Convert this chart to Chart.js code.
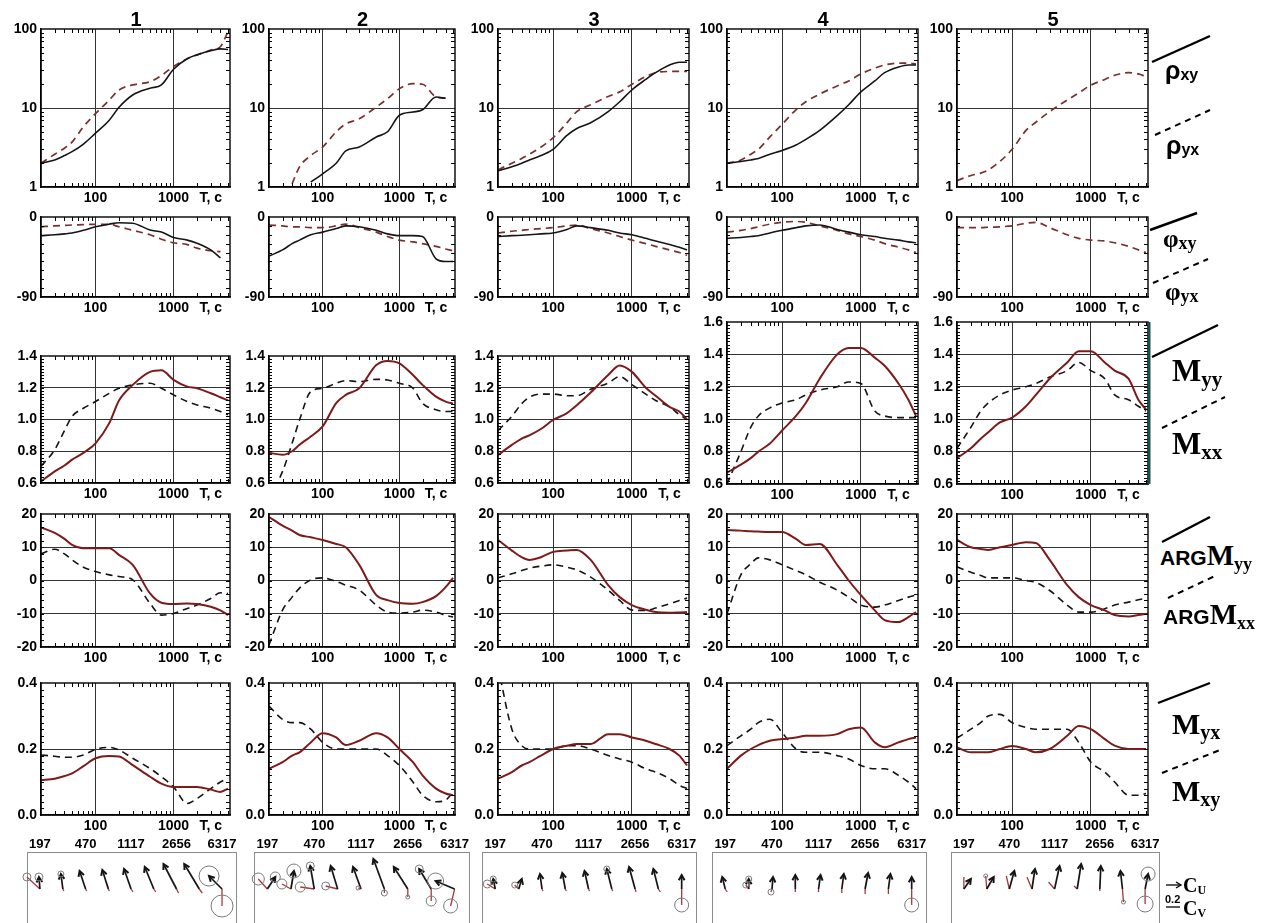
<!DOCTYPE html>
<html>
<head>
<meta charset="utf-8">
<script src="https://cdn.jsdelivr.net/npm/chart.js@4.4.0/dist/chart.umd.min.js"></script>
<style>
  body { margin: 0; background: #fff; }
  #page { position: relative; width: 1267px; height: 923px; overflow: hidden; font-family: "Liberation Sans", Arial, sans-serif; }
  #page canvas { position: absolute; }
  .hdr { position: absolute; font: bold 20px "Liberation Sans", Arial, sans-serif; line-height: 1; }
  .lg { position: absolute; line-height: 1; white-space: nowrap; color: #000; }
  .sans { font-family: "Liberation Sans", Arial, sans-serif; font-weight: bold; }
  .serif { font-family: "Liberation Serif", "Times New Roman", serif; font-weight: bold; }
  .sb { position: relative; }
</style>
</head>
<body>
<div id="page">
  <svg id="keys" width="1267" height="923" style="position:absolute;left:0;top:0">
    <g stroke="#000" stroke-width="2.4" fill="none">
      <line x1="1152" y1="62" x2="1210" y2="36"/>
      <line x1="1155" y1="135" x2="1210" y2="110" stroke-dasharray="6 5" stroke-width="2"/>
      <line x1="1150" y1="230" x2="1197" y2="213"/>
      <line x1="1153" y1="283" x2="1208" y2="259" stroke-dasharray="6 5" stroke-width="2"/>
      <line x1="1152" y1="357" x2="1218" y2="325"/>
      <line x1="1162" y1="428" x2="1225" y2="397" stroke-dasharray="6 5" stroke-width="2"/>
      <line x1="1162" y1="542" x2="1210" y2="517"/>
      <line x1="1168" y1="598" x2="1217" y2="575" stroke-dasharray="6 5" stroke-width="2"/>
      <line x1="1158" y1="703" x2="1210" y2="683"/>
      <line x1="1162" y1="773" x2="1220" y2="750" stroke-dasharray="6 5" stroke-width="2"/>
      <line x1="1166" y1="885" x2="1180" y2="885" stroke-width="1.3"/>
      <polyline points="1176,882 1181,885 1176,888" stroke-width="1.3"/>
      <line x1="1166" y1="907" x2="1180" y2="907" stroke-width="1.3"/>
    </g>
  </svg>
</div>
<script>
// ---- periods (s) used for every curve ----
const T = [20, 30, 40, 50, 70, 100, 150, 200, 300, 500, 700, 1000, 1500, 2000, 3000, 4000, 5000];

// ---- apparent resistivity, Ohm*m ----
const rhoXY1 = [2.0, 2.2, 2.5, 2.8, 3.5, 4.8, 7.0, 10.2, 14.6, 17.8, 19.6, 31, 42, 47, 53, 56, 55];
const rhoYX1 = [2.0, 2.6, 3.1, 3.7, 5.8, 8.5, 12.6, 16.9, 19.6, 21.5, 25.8, 33.6, 42, 47, 54, 60, 93];
const rhoXY2 = [null, null, null, null, 1.15, 1.47, 2.0, 2.86, 3.2, 4.3, 5.0, 8.1, 8.9, 9.5, 13.8, 13.3, null];
const rhoYX2 = [null, null, 1.1, 1.8, 2.5, 3.2, 5.0, 6.3, 7.3, 10.3, 13.1, 17.6, 20.3, 20, 13.8, 13.3, null];
const rhoXY3 = [1.6, 1.8, 2.0, 2.2, 2.5, 3.0, 4.5, 5.5, 6.5, 9, 12, 17, 23, 28, 35, 38, 38];
const rhoYX3 = [1.65, 2.0, 2.3, 2.6, 3.2, 4.2, 6.5, 9, 11, 14, 16, 20, 25, 28, 29, 29, 29];
const rhoXY4 = [2.0, 2.1, 2.2, 2.3, 2.6, 2.9, 3.4, 4.0, 5.2, 8, 11, 16, 22, 28, 33, 35, 35];
const rhoYX4 = [2.0, 2.2, 2.6, 3.0, 4.3, 6.2, 9.5, 12, 15, 19, 22, 27, 32, 35, 37, 37, 36];
const rhoYX5 = [1.2, 1.4, 1.5, 1.65, 2.1, 3.0, 5.2, 6.6, 9, 12.6, 15.5, 19.5, 23, 26, 28, 27, 25];

// ---- impedance phase, degrees ----
const phiXY1 = [-21, -20, -19, -18, -15, -11, -8, -6.4, -7, -14.6, -17, -23, -26, -29.5, -37, -46, null];
const phiYX1 = [-11, -10, -9.5, -9, -8.5, -8.3, -8.3, -11, -15, -20, -25, -29, -31, -35, -38, -39, null];
const phiXY2 = [-44, -37, -30, -26, -20, -17, -13, -10, -11, -15, -19, -21, -21, -22, -47, -50, -50];
const phiYX2 = [-9, -10, -11, -11, -12, -12, -10, -8, -12, -17, -22, -26, -28, -30, -33, -36, -38];
const phiXY3 = [-22, -21, -20.5, -20, -19, -18, -14, -10, -12, -15, -18, -20, -24, -27, -31, -34, -37];
const phiYX3 = [-18, -16, -15, -14, -13, -12, -10, -9, -13, -18, -22, -26, -30, -33, -37, -40, -43];
const phiXY4 = [-24, -23, -22, -21, -18, -15, -12, -10, -9, -14, -17, -20, -22, -24, -26, -28, -29];
const phiYX4 = [-17, -15, -13, -11, -8, -6, -5, -6, -10, -15, -19, -22, -26, -30, -34, -37, -40];
const phiYX5 = [-12, -12, -12, -11.5, -11, -10, -7, -6, -12, -20, -24, -26, -27, -29, -33, -37, -40];

// ---- magnetic tensor, main components ----
const myy1 = [0.61, 0.673, 0.71, 0.747, 0.79, 0.85, 0.977, 1.12, 1.218, 1.30, 1.31, 1.25, 1.207, 1.197, 1.165, 1.14, 1.12];
const mxx1 = [0.705, 0.81, 0.93, 1.019, 1.071, 1.113, 1.165, 1.197, 1.218, 1.228, 1.197, 1.155, 1.113, 1.092, 1.071, 1.05, 1.03];
const myy2 = [0.79, 0.778, 0.80, 0.841, 0.893, 0.956, 1.103, 1.155, 1.197, 1.343, 1.369, 1.354, 1.28, 1.218, 1.144, 1.113, 1.10];
const mxx2 = [0.5, 0.673, 0.85, 0.998, 1.176, 1.197, 1.228, 1.245, 1.239, 1.253, 1.249, 1.228, 1.197, 1.103, 1.061, 1.05, 1.05];
const myy3 = [0.776, 0.84, 0.88, 0.90, 0.94, 0.997, 1.04, 1.09, 1.17, 1.28, 1.34, 1.30, 1.2, 1.15, 1.08, 1.05, 1.0];
const mxx3 = [0.93, 1.02, 1.1, 1.14, 1.16, 1.16, 1.15, 1.15, 1.19, 1.23, 1.27, 1.22, 1.16, 1.12, 1.08, 1.03, 1.0];
const myy4 = [0.67, 0.72, 0.76, 0.8, 0.85, 0.93, 1.02, 1.1, 1.25, 1.4, 1.44, 1.44, 1.38, 1.33, 1.22, 1.12, 1.02];
const mxx4 = [0.6, 0.8, 0.95, 1.02, 1.07, 1.1, 1.12, 1.15, 1.18, 1.2, 1.23, 1.22, 1.05, 1.02, 1.01, 1.01, 1.01];
const myy5 = [0.76, 0.82, 0.88, 0.92, 0.98, 1.01, 1.08, 1.15, 1.25, 1.35, 1.42, 1.42, 1.35, 1.3, 1.25, 1.12, 1.06];
const mxx5 = [0.82, 0.95, 1.05, 1.1, 1.15, 1.18, 1.2, 1.22, 1.26, 1.3, 1.35, 1.3, 1.25, 1.15, 1.12, 1.08, 1.05];

// ---- arguments of main components, degrees ----
const argYY1 = [16, 14.3, 12.5, 10.7, 9.7, 9.7, 9.7, 7.7, 4.7, -3.9, -6.7, -7.1, -6.9, -7.1, -7.9, -9, -10.4];
const argXX1 = [8, 9.4, 8, 6.2, 4, 2.7, 1.7, 1.2, 0.2, -6.9, -10.4, -9.9, -8.4, -7.4, -5.4, -3.7, -3.9];
const argYY2 = [19.1, 16.5, 15, 13.7, 13, 12.2, 11, 10, 4.7, -4.4, -5.9, -6.8, -7, -6.5, -4.7, -2, 0.8];
const argXX2 = [-19.4, -8.9, -5, -2.3, 0.2, 0.8, -0.3, -1.4, -2.9, -7.4, -9.5, -9.8, -9.5, -8.9, -9.5, -10.5, -11];
const argYY3 = [12.2, 9, 7, 6.2, 7, 8.6, 9, 9.2, 6.2, -1.4, -5, -7.4, -8.8, -9.5, -9.7, -9.6, -9.5];
const argXX3 = [0.8, 2, 3, 3.7, 4.3, 4.7, 4, 3.2, 1, -2.9, -6, -8.9, -9, -8.3, -7, -6, -5.3];
const argYY4 = [15.2, 15, 14.8, 14.7, 14.6, 14.6, 12.5, 10.7, 11, 4.7, 0, -4.4, -9, -11.9, -12.5, -11, -9.5];
const argXX4 = [-10, 1.7, 5, 6.8, 6.2, 4.7, 3, 1.7, -0.5, -2.9, -5, -7.4, -8, -7.4, -6, -5, -4.4];
const argYY5 = [12.2, 10, 9.5, 9.2, 10, 10.7, 11.5, 11.3, 6.2, -1.4, -5, -7.4, -9, -10.4, -10.8, -10.4, -10];
const argXX5 = [4.1, 2.5, 1.5, 0.8, 0.8, 0.8, 0, -0.6, -3, -7.4, -9.5, -9.5, -8.5, -7.4, -6.5, -5.8, -5.3];

// ---- magnetic tensor, additional components ----
const myx1 = [0.106, 0.11, 0.118, 0.126, 0.148, 0.172, 0.179, 0.177, 0.151, 0.116, 0.095, 0.085, 0.085, 0.085, 0.077, 0.07, 0.08];
const mxy1 = [0.182, 0.178, 0.175, 0.175, 0.182, 0.199, 0.205, 0.197, 0.172, 0.141, 0.116, 0.085, 0.035, 0.05, 0.08, 0.1, 0.111];
const myx2 = [0.14, 0.16, 0.18, 0.19, 0.22, 0.248, 0.235, 0.212, 0.225, 0.248, 0.235, 0.2, 0.16, 0.12, 0.08, 0.065, 0.06];
const mxy2 = [0.33, 0.29, 0.28, 0.28, 0.26, 0.22, 0.2, 0.2, 0.2, 0.2, 0.18, 0.15, 0.1, 0.06, 0.04, 0.045, 0.07];
const myx3 = [0.11, 0.13, 0.15, 0.16, 0.18, 0.2, 0.21, 0.215, 0.215, 0.245, 0.245, 0.235, 0.225, 0.215, 0.2, 0.18, 0.15];
const mxy3 = [0.45, 0.26, 0.21, 0.2, 0.2, 0.2, 0.21, 0.21, 0.2, 0.18, 0.17, 0.16, 0.14, 0.13, 0.11, 0.09, 0.08];
const myx4 = [0.14, 0.18, 0.2, 0.212, 0.225, 0.23, 0.235, 0.24, 0.24, 0.245, 0.26, 0.265, 0.22, 0.205, 0.22, 0.23, 0.235];
const mxy4 = [0.21, 0.24, 0.26, 0.28, 0.29, 0.25, 0.2, 0.19, 0.19, 0.18, 0.17, 0.15, 0.14, 0.14, 0.12, 0.1, 0.08];
const myx5 = [0.205, 0.19, 0.19, 0.19, 0.2, 0.209, 0.2, 0.19, 0.2, 0.24, 0.27, 0.26, 0.23, 0.21, 0.2, 0.2, 0.2];
const mxy5 = [0.233, 0.26, 0.28, 0.3, 0.305, 0.28, 0.265, 0.26, 0.26, 0.26, 0.22, 0.16, 0.13, 0.1, 0.06, 0.06, 0.065];

// ---- induction arrows: periods, labels, real (Cu) and imaginary (Cv) parts, error circles (px) ----
const arrT = [197, 305, 470, 725, 1117, 1722, 2656, 4096, 6317];
const arrLabels = [197, 470, 1117, 2656, 6317];
const reU1 = [-0.01, -0.02, -0.06, -0.06, -0.07, -0.09, -0.13, -0.15, -0.13];
const reV1 = [0.12, 0.15, 0.18, 0.19, 0.20, 0.22, 0.25, 0.25, 0.13];
const imU1 = [-0.13, 0.01, 0.01, 0.01, 0.02, 0.02, 0.02, 0.03, 0.0];
const imV1 = [0.12, -0.02, -0.02, -0.02, -0.03, -0.03, -0.04, -0.04, -0.17];
const cRe1 = [4, 3, 0, 0, 0, 0, 0, 0, 10];
const cIm1 = [4, 0, 0, 0, 0, 0, 0, 0, 11];
const reU2 = [0.08, 0.03, -0.04, -0.07, -0.08, -0.11, -0.14, -0.12, -0.19];
const reV2 = [0.12, 0.18, 0.23, 0.23, 0.22, 0.30, 0.22, 0.20, 0.08];
const imU2 = [-0.09, -0.09, -0.14, -0.12, -0.03, 0.0, 0.0, 0.0, -0.04];
const imV2 = [0.10, 0.05, 0.02, 0.03, 0.01, -0.04, -0.08, -0.12, -0.17];
const cRe2 = [5, 7, 4, 0, 0, 0, 0, 4, 8];
const cIm2 = [6, 5, 5, 4, 2, 3, 2, 5, 7];
const reU3 = [-0.02, 0.03, -0.02, -0.03, -0.04, -0.05, -0.06, -0.05, 0.0];
const reV3 = [0.10, 0.10, 0.15, 0.16, 0.18, 0.20, 0.22, 0.20, 0.14];
const imU3 = [-0.08, -0.04, 0.01, 0.01, 0.01, 0.01, 0.01, 0.02, 0.0];
const imV3 = [0.05, 0.04, -0.02, -0.02, -0.02, -0.02, -0.03, -0.03, -0.16];
const cRe3 = [3, 0, 0, 0, 0, 3, 0, 0, 0];
const cIm3 = [4, 3, 0, 0, 0, 0, 0, 0, 7];
const reU4 = [-0.03, 0.0, 0.01, 0.0, 0.02, 0.02, 0.03, 0.02, 0.0];
const reV4 = [0.12, 0.10, 0.12, 0.14, 0.14, 0.15, 0.16, 0.15, 0.12];
const imU4 = [0.02, -0.03, -0.01, 0.0, 0.0, 0.0, 0.0, 0.0, 0.0];
const imV4 = [-0.03, 0.04, -0.03, -0.03, -0.03, -0.04, -0.05, -0.05, -0.16];
const cRe4 = [0, 3, 0, 0, 0, 0, 0, 0, 0];
const cIm4 = [0, 3, 3, 0, 0, 0, 0, 0, 7];
const reU5 = [0.07, 0.07, 0.05, 0.03, 0.05, 0.04, 0.01, -0.02, 0.03];
const reV5 = [0.10, 0.12, 0.18, 0.20, 0.23, 0.25, 0.23, 0.18, 0.15];
const imU5 = [0.0, -0.01, -0.03, -0.05, -0.06, -0.03, 0.0, 0.01, 0.0];
const imV5 = [0.12, 0.13, 0.13, 0.12, 0.07, 0.03, -0.02, -0.13, -0.15];
const cRe5 = [0, 0, 0, 0, 0, 0, 0, 0, 7];
const cIm5 = [0, 2, 0, 0, 0, 0, 0, 2, 8];

// ---- layout ----
const colLeft = [41, 269, 498, 727, 957];
const colRight = [230, 455, 689, 918, 1148];
const boxLeft = [27, 254, 482, 712, 951];
const boxRight = [237, 470, 697, 927, 1160];
const FONT = '"Liberation Sans", Arial, sans-serif';

const page = document.getElementById('page');
Chart.defaults.font.family = FONT;
Chart.defaults.color = '#000';

function steps(a, b, s) {
  const out = [];
  for (let v = a; v <= b + 1e-9; v += s) out.push(+v.toFixed(4));
  return out;
}
const xMinor = [30, 40, 50, 60, 70, 80, 90, 200, 300, 400, 500, 600, 700, 800, 900, 2000, 3000, 4000, 5000];

// frame + small inward ticks, like the original plotting package
const frameTicks = {
  id: 'frameTicks',
  afterDraw(chart, args, o) {
    if (!o || !o.on) return;
    const { ctx, chartArea: a, scales: { x, y } } = chart;
    ctx.save();
    ctx.strokeStyle = '#000';
    ctx.lineWidth = 1;
    ctx.beginPath();
    xMinor.forEach(v => {
      const px = Math.round(x.getPixelForValue(v)) + 0.5;
      ctx.moveTo(px, a.top); ctx.lineTo(px, a.top + 4);
      ctx.moveTo(px, a.bottom); ctx.lineTo(px, a.bottom - 4);
    });
    (o.yMinor || []).forEach(v => {
      const py = Math.round(y.getPixelForValue(v)) + 0.5;
      ctx.moveTo(a.left, py); ctx.lineTo(a.left + 3, py);
      ctx.moveTo(a.right, py); ctx.lineTo(a.right - 4, py);
    });
    ctx.stroke();
    ctx.lineWidth = 1.4;
    ctx.strokeRect(a.left, a.top, a.right - a.left, a.bottom - a.top);
    if (o.thickRight) {
      ctx.strokeStyle = '#1d4d4d';
      ctx.lineWidth = 3;
      ctx.beginPath(); ctx.moveTo(a.right + 1, a.top); ctx.lineTo(a.right + 1, a.bottom); ctx.stroke();
    }
    ctx.restore();
  }
};

// induction arrows drawn through the panel's own scales
const arrowPlot = {
  id: 'arrowPlot',
  afterDatasetsDraw(chart, args, o) {
    if (!o || !o.reU) return;
    const { ctx, chartArea: a, scales: { x, y } } = chart;
    const k = y.getPixelForValue(0) - y.getPixelForValue(1);
    ctx.save();
    ctx.strokeStyle = '#8c8c8c';
    ctx.lineWidth = 1;
    ctx.strokeRect(a.left + 0.5, a.top + 0.5, a.right - a.left - 1, a.bottom - a.top + 20);
    arrT.forEach((t, i) => {
      const ox = x.getPixelForValue(t), oy = y.getPixelForValue(0);
      const ix = ox + o.imU[i] * k, iy = oy - o.imV[i] * k;
      const rx = ox + o.reU[i] * k, ry = oy - o.reV[i] * k;
      ctx.strokeStyle = '#a83838';
      ctx.lineWidth = 1.3;
      ctx.beginPath(); ctx.moveTo(ox, oy); ctx.lineTo(ix, iy); ctx.stroke();
      ctx.strokeStyle = '#151515';
      ctx.lineWidth = 1.7;
      ctx.beginPath(); ctx.moveTo(ox, oy); ctx.lineTo(rx, ry); ctx.stroke();
      const ang = Math.atan2(ry - oy, rx - ox);
      ctx.lineWidth = 2;
      ctx.beginPath();
      ctx.moveTo(rx - 6 * Math.cos(ang - 0.5), ry - 6 * Math.sin(ang - 0.5));
      ctx.lineTo(rx, ry);
      ctx.lineTo(rx - 6 * Math.cos(ang + 0.5), ry - 6 * Math.sin(ang + 0.5));
      ctx.stroke();
      ctx.strokeStyle = '#7a7a7a';
      ctx.lineWidth = 1;
      if (o.cRe[i]) { ctx.beginPath(); ctx.arc(rx, ry, o.cRe[i], 0, Math.PI * 2); ctx.stroke(); }
      if (o.cIm[i]) { ctx.beginPath(); ctx.arc(ix, iy, o.cIm[i], 0, Math.PI * 2); ctx.stroke(); }
    });
    ctx.restore();
  }
};
Chart.register(frameTicks, arrowPlot);

const tickFont = { family: FONT, size: 14, weight: 'bold' };
const near = (a, list) => list.some(v => Math.abs(v - a) < 1e-6);

const rowRho = { top: 29, bottom: 187, type: 'logarithmic', min: 1, max: 100, ticks: [1, 10, 100], grid: [10],
  minor: [2, 3, 4, 5, 6, 7, 8, 9, 20, 30, 40, 50, 60, 70, 80, 90], fmt: v => String(v) };
const rowPhi = { top: 217, bottom: 297, type: 'linear', min: -90, max: 0, ticks: [-90, 0], grid: [],
  minor: steps(-80, -10, 10), fmt: v => String(v) };
const rowM = { top: 356, bottom: 483, type: 'linear', min: 0.6, max: 1.4, ticks: [0.6, 0.8, 1.0, 1.2, 1.4], grid: [0.8, 1.0, 1.2],
  minor: steps(0.62, 1.38, 0.02), fmt: v => v.toFixed(1) };
const rowM2 = { top: 322, bottom: 484, type: 'linear', min: 0.6, max: 1.6, ticks: [0.6, 0.8, 1.0, 1.2, 1.4, 1.6], grid: [0.8, 1.0, 1.2, 1.4],
  minor: steps(0.62, 1.58, 0.02), fmt: v => v.toFixed(1) };
const rowArg = { top: 514, bottom: 647, type: 'linear', min: -20, max: 20, ticks: [-20, -10, 0, 10, 20], grid: [-10, 0, 10],
  minor: steps(-18, 18, 2), fmt: v => String(v) };
const rowMyx = { top: 683, bottom: 815, type: 'linear', min: 0, max: 0.4, ticks: [0, 0.2, 0.4], grid: [0.2],
  minor: steps(0.02, 0.38, 0.02), fmt: v => v.toFixed(1) };

const solidBlack = { borderColor: '#151515', borderWidth: 1.6 };
const dashRed = { borderColor: '#7a2f2f', borderWidth: 1.7, borderDash: [7, 5] };
const solidRed = { borderColor: '#7d1b1b', borderWidth: 2 };
const dashBlack = { borderColor: '#151515', borderWidth: 1.6, borderDash: [7, 5] };

function series(vals, style) {
  return Object.assign({
    data: T.map((t, i) => ({ x: t, y: vals[i] })),
    pointRadius: 0, fill: false, cubicInterpolationMode: 'monotone', spanGaps: false
  }, style);
}

function addCanvas(left, top, w, h) {
  const cv = document.createElement('canvas');
  cv.width = w; cv.height = h;
  cv.style.left = left + 'px'; cv.style.top = top + 'px';
  cv.style.width = w + 'px'; cv.style.height = h + 'px';
  page.appendChild(cv);
  return cv;
}

function panel(c, row, sets, extra) {
  const PL = 50, PT = 16, PR = 10, PB = 26;
  const left = colLeft[c], right = colRight[c];
  const w = right - left + PL + PR, h = row.bottom - row.top + PT + PB;
  const cv = addCanvas(left - PL, row.top - PT, w, h);
  new Chart(cv, {
    type: 'line',
    data: { datasets: sets },
    options: {
      responsive: false, animation: false, events: [],
      layout: { padding: { top: PT, right: PR, left: 0, bottom: 0 } },
      plugins: { legend: { display: false }, tooltip: { enabled: false },
        frameTicks: Object.assign({ on: true, yMinor: row.minor }, extra || {}) },
      scales: {
        x: {
          type: 'logarithmic', min: 20, max: 5300,
          afterBuildTicks: s => { s.ticks = [{ value: 100 }, { value: 1000 }, { value: 3000 }]; },
          afterFit: s => { s.height = PB; },
          ticks: { font: tickFont, color: '#000', padding: 3, autoSkip: false, maxRotation: 0,
            callback: v => (v === 3000 ? 'T, c' : String(v)) },
          grid: { drawTicks: false, lineWidth: 1, color: ctx => (ctx.tick && ctx.tick.value === 3000 ? 'rgba(0,0,0,0)' : '#333') },
          border: { color: '#000', width: 1.4 }
        },
        y: {
          type: row.type, min: row.min, max: row.max,
          afterBuildTicks: s => { s.ticks = row.ticks.map(v => ({ value: v })); },
          afterFit: s => { s.width = PL; },
          ticks: { font: tickFont, color: '#000', padding: 4, autoSkip: false, callback: v => row.fmt(v) },
          grid: { drawTicks: false, lineWidth: 1, color: ctx => (ctx.tick && near(ctx.tick.value, row.grid) ? '#333' : 'rgba(0,0,0,0)') },
          border: { color: '#000', width: 1.4 }
        }
      }
    }
  });
}

function arrowPanel(c, reU, reV, imU, imV, cRe, cIm) {
  const PL = 10, PR = 10, TOP = 18, boxTop = 852, boxBottom = 932;
  const w = boxRight[c] - boxLeft[c] + PL + PR, h = boxBottom - boxTop + TOP;
  const cv = addCanvas(boxLeft[c] - PL, boxTop - TOP, w, h);
  new Chart(cv, {
    type: 'scatter',
    data: { datasets: [{ data: arrT.map(t => ({ x: t, y: 0 })), pointRadius: 0 }] },
    options: {
      responsive: false, animation: false, events: [],
      layout: { padding: { top: 0, right: PR, left: PL, bottom: 0 } },
      plugins: { legend: { display: false }, tooltip: { enabled: false },
        arrowPlot: { reU, reV, imU, imV, cRe, cIm } },
      scales: {
        x: {
          type: 'logarithmic', position: 'top', min: 154, max: 8400,
          afterBuildTicks: s => { s.ticks = arrLabels.map(v => ({ value: v })); },
          afterFit: s => { s.height = TOP; },
          ticks: { font: { family: FONT, size: 13, weight: 'bold' }, color: '#000', padding: 0, autoSkip: false, maxRotation: 0,
            callback: v => String(v) },
          grid: { display: false, drawTicks: false }, border: { display: false }
        },
        y: { display: false, min: -0.43, max: 0.37 }
      }
    }
  });
}

// ---- column 1 ----
panel(0, rowRho, [series(rhoXY1, solidBlack), series(rhoYX1, dashRed)]);
panel(0, rowPhi, [series(phiXY1, solidBlack), series(phiYX1, dashRed)]);
panel(0, rowM, [series(myy1, solidRed), series(mxx1, dashBlack)]);
panel(0, rowArg, [series(argYY1, solidRed), series(argXX1, dashBlack)]);
panel(0, rowMyx, [series(myx1, solidRed), series(mxy1, dashBlack)]);
arrowPanel(0, reU1, reV1, imU1, imV1, cRe1, cIm1);
// ---- column 2 ----
panel(1, rowRho, [series(rhoXY2, solidBlack), series(rhoYX2, dashRed)]);
panel(1, rowPhi, [series(phiXY2, solidBlack), series(phiYX2, dashRed)]);
panel(1, rowM, [series(myy2, solidRed), series(mxx2, dashBlack)]);
panel(1, rowArg, [series(argYY2, solidRed), series(argXX2, dashBlack)]);
panel(1, rowMyx, [series(myx2, solidRed), series(mxy2, dashBlack)]);
arrowPanel(1, reU2, reV2, imU2, imV2, cRe2, cIm2);
// ---- column 3 ----
panel(2, rowRho, [series(rhoXY3, solidBlack), series(rhoYX3, dashRed)]);
panel(2, rowPhi, [series(phiXY3, solidBlack), series(phiYX3, dashRed)]);
panel(2, rowM, [series(myy3, solidRed), series(mxx3, dashBlack)]);
panel(2, rowArg, [series(argYY3, solidRed), series(argXX3, dashBlack)]);
panel(2, rowMyx, [series(myx3, solidRed), series(mxy3, dashBlack)]);
arrowPanel(2, reU3, reV3, imU3, imV3, cRe3, cIm3);
// ---- column 4 ----
panel(3, rowRho, [series(rhoXY4, solidBlack), series(rhoYX4, dashRed)]);
panel(3, rowPhi, [series(phiXY4, solidBlack), series(phiYX4, dashRed)]);
panel(3, rowM2, [series(myy4, solidRed), series(mxx4, dashBlack)]);
panel(3, rowArg, [series(argYY4, solidRed), series(argXX4, dashBlack)]);
panel(3, rowMyx, [series(myx4, solidRed), series(mxy4, dashBlack)]);
arrowPanel(3, reU4, reV4, imU4, imV4, cRe4, cIm4);
// ---- column 5 (only rho_yx / phi_yx) ----
panel(4, rowRho, [series(rhoYX5, dashRed)]);
panel(4, rowPhi, [series(phiYX5, dashRed)]);
panel(4, rowM2, [series(myy5, solidRed), series(mxx5, dashBlack)], { thickRight: true });
panel(4, rowArg, [series(argYY5, solidRed), series(argXX5, dashBlack)]);
panel(4, rowMyx, [series(myx5, solidRed), series(mxy5, dashBlack)]);
arrowPanel(4, reU5, reV5, imU5, imV5, cRe5, cIm5);

// ---- column numbers ----
['1', '2', '3', '4', '5'].forEach((s, i) => {
  const d = document.createElement('div');
  d.className = 'hdr';
  d.textContent = s;
  d.style.left = ((colLeft[i] + colRight[i]) / 2 - 5) + 'px';
  d.style.top = '9px';
  page.appendChild(d);
});

// ---- curve keys on the right ----
const keys = [
  { x: 1165, y: 58, html: '<span class="sans" style="font-size:25px">ρ</span><span class="sans sb" style="font-size:16px;top:1px">xy</span>' },
  { x: 1166, y: 133, html: '<span class="sans" style="font-size:25px">ρ</span><span class="sans sb" style="font-size:16px;top:1px">yx</span>' },
  { x: 1163, y: 226, html: '<span class="serif" style="font-size:25px">φ</span><span class="serif sb" style="font-size:18px;top:2px">xy</span>' },
  { x: 1165, y: 279, html: '<span class="serif" style="font-size:25px">φ</span><span class="serif sb" style="font-size:18px;top:2px">yx</span>' },
  { x: 1172, y: 355, html: '<span class="serif" style="font-size:31px">M</span><span class="serif sb" style="font-size:21px;top:5px">yy</span>' },
  { x: 1172, y: 428, html: '<span class="serif" style="font-size:31px">M</span><span class="serif sb" style="font-size:21px;top:5px">xx</span>' },
  { x: 1160, y: 541, html: '<span class="sans" style="font-size:21px">ARG</span><span class="serif" style="font-size:29px">M</span><span class="serif sb" style="font-size:18px;top:5px">yy</span>' },
  { x: 1163, y: 600, html: '<span class="sans" style="font-size:21px">ARG</span><span class="serif" style="font-size:29px">M</span><span class="serif sb" style="font-size:18px;top:5px">xx</span>' },
  { x: 1172, y: 709, html: '<span class="serif" style="font-size:30px">M</span><span class="serif sb" style="font-size:20px;top:5px">yx</span>' },
  { x: 1172, y: 776, html: '<span class="serif" style="font-size:30px">M</span><span class="serif sb" style="font-size:20px;top:5px">xy</span>' },
  { x: 1183, y: 875, html: '<span class="serif" style="font-size:20px">C</span><span class="serif sb" style="font-size:12px;top:2px">U</span>' },
  { x: 1165, y: 890, html: '<span class="sans" style="font-size:11px">0.2</span>' },
  { x: 1183, y: 898, html: '<span class="serif" style="font-size:20px">C</span><span class="serif sb" style="font-size:12px;top:2px">V</span>' }
];
keys.forEach(k => {
  const d = document.createElement('div');
  d.className = 'lg';
  d.style.left = k.x + 'px';
  d.style.top = k.y + 'px';
  d.innerHTML = k.html;
  page.appendChild(d);
});
</script>
</body>
</html>
